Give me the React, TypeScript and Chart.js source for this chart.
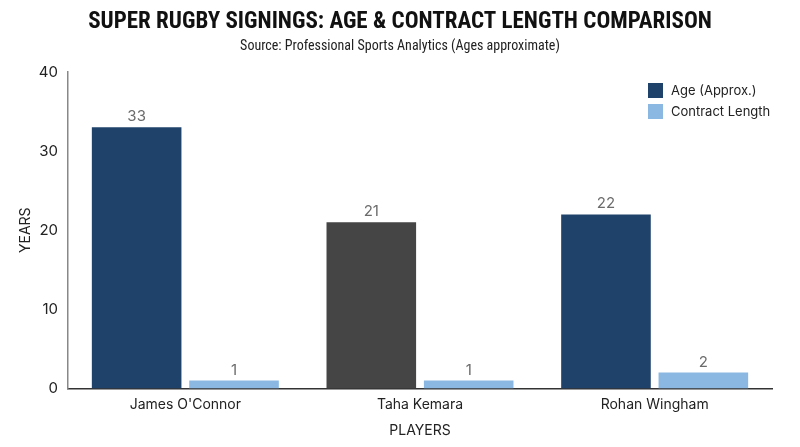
import { useEffect, useRef } from "react";
import { Chart, registerables, type ChartConfiguration, type Plugin } from "chart.js";

Chart.register(...registerables);

const players = ["James O'Connor", "Taha Kemara", "Rohan Wingham"];
const ageValues = [33, 21, 22];
const contractValues = [1, 1, 2];
const ageColors = ["#1f426b", "#454545", "#1f426b"];
const contractColor = "#8ab8e2";
const legendLabels = ["Age (Approx.)", "Contract Length"];
const legendColors = ["#1f426b", "#8ab8e2"];
const chartTitle = "SUPER RUGBY SIGNINGS: AGE & CONTRACT LENGTH COMPARISON";
const chartSubtitle = "Source: Professional Sports Analytics (Ages approximate)";

const bodyFont = "Inter, 'Noto Sans', sans-serif";
const titleFont = "'Liberation Sans Narrow', 'Roboto Condensed', Roboto, sans-serif";

// title block centred on the whole canvas, not on the padded layout box
const centredTitle: Plugin<"bar"> = {
  id: "centredTitle",
  afterDraw(chart) {
    const { ctx, width } = chart;
    ctx.save();
    ctx.textAlign = "center";
    ctx.textBaseline = "middle";
    ctx.fillStyle = "#111";
    ctx.font = `bold 23px ${titleFont}`;
    ctx.fillText(chartTitle, width / 2, 22);
    ctx.fillStyle = "#222";
    ctx.font = `14px ${titleFont}`;
    ctx.fillText(chartSubtitle, width / 2, 46);
    ctx.restore();
  },
};

// value labels above each bar
const valueLabels: Plugin<"bar"> = {
  id: "valueLabels",
  afterDatasetsDraw(chart) {
    const { ctx } = chart;
    ctx.save();
    ctx.font = `15px ${bodyFont}`;
    ctx.fillStyle = "#6b6b6b";
    ctx.textAlign = "center";
    ctx.textBaseline = "bottom";
    chart.data.datasets.forEach((dataset, i) => {
      const meta = chart.getDatasetMeta(i);
      meta.data.forEach((bar, j) => {
        ctx.fillText(String(dataset.data[j]), bar.x, bar.y - 3);
      });
    });
    ctx.restore();
  },
};

// vertical legend in the top right corner of the plot
const cornerLegend: Plugin<"bar"> = {
  id: "cornerLegend",
  afterDraw(chart) {
    const { ctx, chartArea } = chart;
    const x = chartArea.right - 124;
    ctx.save();
    ctx.font = `13px ${bodyFont}`;
    ctx.textBaseline = "middle";
    ctx.textAlign = "left";
    legendLabels.forEach((label, i) => {
      const y = chartArea.top + 11 + i * 21;
      ctx.fillStyle = legendColors[i];
      ctx.fillRect(x, y, 15, 15);
      ctx.fillStyle = "#222";
      ctx.fillText(label, x + 23, y + 8);
    });
    ctx.restore();
  },
};

export default function App() {
  const canvasRef = useRef<HTMLCanvasElement | null>(null);

  useEffect(() => {
    const canvas = canvasRef.current;
    if (!canvas) return;

    const configuration: ChartConfiguration<"bar"> = {
      type: "bar",
      data: {
        labels: players,
        datasets: [
          {
            label: legendLabels[0],
            data: ageValues,
            backgroundColor: ageColors,
            categoryPercentage: 0.83,
            barPercentage: 0.92,
          },
          {
            label: legendLabels[1],
            data: contractValues,
            backgroundColor: contractColor,
            categoryPercentage: 0.83,
            barPercentage: 0.92,
          },
        ],
      },
      options: {
        responsive: true,
        maintainAspectRatio: false,
        animation: false,
        layout: { padding: { top: 72, right: 28, left: 12, bottom: 8 } },
        plugins: {
          legend: { display: false },
          tooltip: { enabled: false },
        },
        scales: {
          x: {
            grid: { display: false, drawTicks: false },
            border: { color: "#333", width: 1.5 },
            ticks: { color: "#222", font: { family: bodyFont, size: 14 }, padding: 8 },
            title: {
              display: true,
              text: "PLAYERS",
              color: "#222",
              font: { family: bodyFont, size: 14 },
              padding: { top: 1, bottom: 0 },
            },
          },
          y: {
            min: 0,
            max: 40,
            grid: { display: false, drawTicks: false },
            border: { color: "#888", width: 1.5 },
            afterFit(scale) {
              scale.width = 56;
            },
            ticks: {
              stepSize: 10,
              color: "#222",
              font: { family: bodyFont, size: 15 },
              padding: 10,
            },
            title: {
              display: true,
              text: "YEARS",
              color: "#222",
              font: { family: bodyFont, size: 14 },
              padding: { top: 5, bottom: 2 },
            },
          },
        },
      },
      plugins: [centredTitle, valueLabels, cornerLegend],
    };

    const chart = new Chart(canvas, configuration);
    return () => {
      chart.destroy();
    };
  }, []);

  return (
    <div style={{ position: "fixed", left: 0, top: 0, width: 800, height: 447, background: "#fff" }}>
      <canvas ref={canvasRef} />
    </div>
  );
}
